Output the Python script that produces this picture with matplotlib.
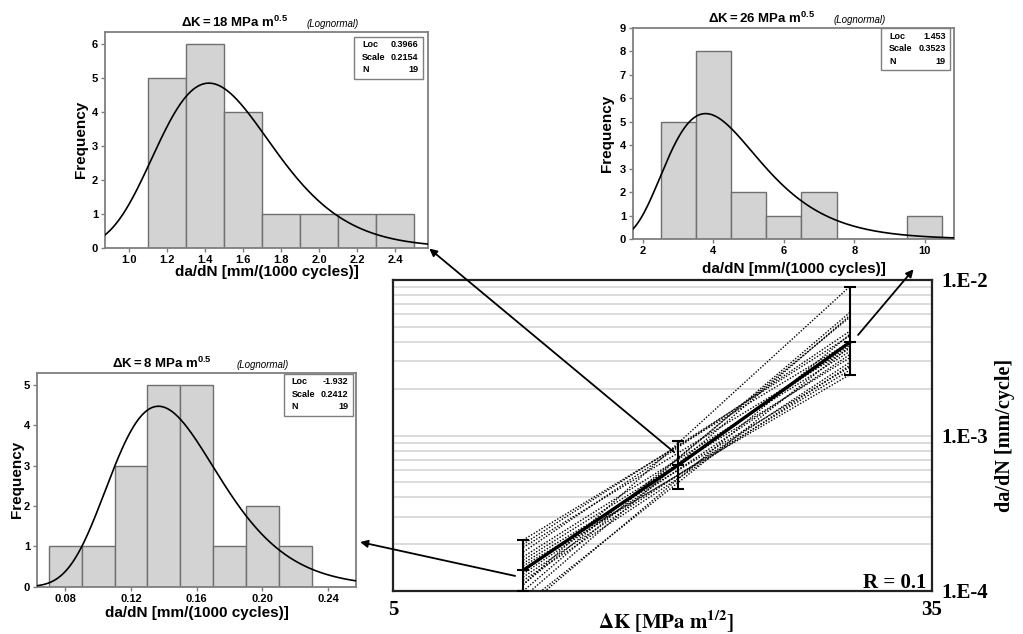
import numpy as np
import matplotlib
matplotlib.use("Agg")
import matplotlib.pyplot as plt
from matplotlib.patches import Rectangle
from matplotlib.ticker import LogLocator, NullLocator, NullFormatter

W, H, DPI = 1023, 634, 100

# ---- crack growth rate bands (mm/cycle) at three dK levels ----
dk_levels = [8, 14, 26]
rate_mean = [1.36e-4, 6.45e-4, 3.97e-3]
rate_low = [1.00e-4, 4.50e-4, 2.46e-3]
rate_high = [2.13e-4, 9.20e-4, 9.06e-3]

# ---- Paris-law fits of the individual specimens, evaluated at dK = 8 and 26 ----
dk_span = [8, 26]
spec_rate_8 = [2.13e-4, 2.00e-4, 1.91e-4, 1.78e-4, 1.66e-4, 1.58e-4, 1.51e-4,
               1.45e-4, 1.38e-4, 1.35e-4, 1.29e-4, 1.23e-4, 1.17e-4, 1.10e-4,
               1.10e-4, 1.00e-4, 0.91e-4, 0.81e-4, 0.76e-4]
spec_rate_26 = [3.98e-3, 4.37e-3, 3.63e-3, 4.68e-3, 3.47e-3, 3.16e-3, 2.75e-3,
                2.46e-3, 2.63e-3, 3.80e-3, 3.31e-3, 2.95e-3, 2.82e-3, 5.75e-3,
                9.06e-3, 6.17e-3, 5.89e-3, 3.72e-3, 4.47e-3]

# ---- histograms of da/dN (mm per 1000 cycles) with lognormal fits ----
h8_edges = [0.07, 0.09, 0.11, 0.13, 0.15, 0.17, 0.19, 0.21, 0.23]
h8_counts = [1, 1, 3, 5, 5, 1, 2, 1]
h8_loc, h8_scale, h8_n = -1.932, 0.2412, 19

h18_edges = [1.1, 1.3, 1.5, 1.7, 1.9, 2.1, 2.3, 2.5]
h18_counts = [5, 6, 4, 1, 1, 1, 1]
h18_loc, h18_scale, h18_n = 0.3966, 0.2154, 19

h26_edges = [2.5, 3.5, 4.5, 5.5, 6.5, 7.5, 8.5, 9.5, 10.5]
h26_counts = [5, 8, 2, 1, 2, 0, 0, 1]
h26_loc, h26_scale, h26_n = 1.453, 0.3523, 19

SANS = "Liberation Sans"
SERIF = "Liberation Serif"
BAR = "#d3d3d3"
BAR_EDGE = "#6f6f6f"
FRAME = "#7f7f7f"

plt.rcParams["mathtext.fontset"] = "custom"
plt.rcParams["mathtext.rm"] = SANS
plt.rcParams["mathtext.bf"] = SANS + ":bold"
plt.rcParams["mathtext.it"] = SANS + ":italic"

fig = plt.figure(figsize=(W / DPI, H / DPI), dpi=DPI)


def px_axes(l, t, r, b):
    return fig.add_axes([l / W, 1 - b / H, (r - l) / W, (b - t) / H])


def hist_panel(box, edges, counts, loc, scale, n, dk, xlim, ylim, xticks, xfmt,
               yticks, box_off, xlabel_drop, ylabel_dx):
    l, t, r, b = box
    aw, ah = r - l, b - t
    ax = px_axes(*box)
    e = np.asarray(edges, dtype=float)
    c = np.asarray(counts, dtype=float)
    ax.bar(e[:-1], c, width=np.diff(e), align="edge", color=BAR,
           edgecolor=BAR_EDGE, linewidth=1.0, zorder=2)
    xs = np.linspace(xlim[0], xlim[1], 400)
    pdf = np.exp(-(np.log(xs) - loc) ** 2 / (2 * scale ** 2)) / (xs * scale * np.sqrt(2 * np.pi))
    ax.plot(xs, pdf * n * (e[1] - e[0]), color="black", lw=1.2, zorder=3)
    ax.set_xlim(*xlim)
    ax.set_ylim(*ylim)
    ax.set_xticks(xticks, [xfmt.format(v) for v in xticks], fontsize=8,
                  fontweight="bold", family=SANS)
    ax.set_yticks(yticks, [str(v) for v in yticks], fontsize=8,
                  fontweight="bold", family=SANS)
    ax.tick_params(length=3, width=1, color=FRAME, pad=2)
    for s in ax.spines.values():
        s.set_color(FRAME)
        s.set_linewidth(1.3)

    # title with fit type
    yb = 1 + 5 / ah
    ax.text(0.235, yb, r"$\mathbf{\Delta K = %d\ MPa\ m^{0.5}}$" % dk,
            transform=ax.transAxes, ha="left", va="baseline", fontsize=9.5)
    ax.text(0.625, yb, "(Lognormal)", transform=ax.transAxes, ha="left",
            va="baseline", fontsize=7, style="italic", family=SANS)

    ax.text(0.5, -xlabel_drop / ah, "da/dN [mm/(1000 cycles)]", transform=ax.transAxes,
            ha="center", va="center", fontsize=11, fontweight="bold", family=SANS)
    ax.text(-ylabel_dx / aw, 0.5, "Frequency", transform=ax.transAxes, rotation=90,
            ha="center", va="center", fontsize=11, fontweight="bold", family=SANS)

    # fit summary box
    bw, bh = 69, 42
    r_off, t_off = box_off
    bx0 = 1 - (r_off + bw) / aw
    by0 = 1 - (t_off + bh) / ah
    ax.add_patch(Rectangle((bx0, by0), bw / aw, bh / ah, transform=ax.transAxes,
                           facecolor="white", edgecolor=FRAME, lw=1.0, zorder=5))
    rows = [("Loc", str(loc)), ("Scale", str(scale)), ("N", str(n))]
    for i, (k, v) in enumerate(rows):
        yy = 1 - (t_off + 8 + 12.5 * i) / ah
        ax.text(bx0 + 8 / aw, yy, k, transform=ax.transAxes, ha="left", va="center",
                fontsize=6.5, fontweight="bold", family=SANS, zorder=6)
        ax.text(1 - (r_off + 4.5) / aw, yy, v, transform=ax.transAxes, ha="right",
                va="center", fontsize=6.5, fontweight="bold", family=SANS, zorder=6)
    return ax


ax18 = hist_panel((105, 32, 428, 247.7), h18_edges, h18_counts, h18_loc, h18_scale, h18_n,
                  18, (0.872, 2.574), (0, 6.35), [1.0, 1.2, 1.4, 1.6, 1.8, 2.0, 2.2, 2.4],
                  "{:.1f}", [0, 1, 2, 3, 4, 5, 6], (5, 4.7), 24, 24)
ax26 = hist_panel((633, 28, 954, 239.3), h26_edges, h26_counts, h26_loc, h26_scale, h26_n,
                  26, (1.717, 10.83), (0, 9.0), [2, 4, 6, 8, 10], "{:g}",
                  [0, 1, 2, 3, 4, 5, 6, 7, 8, 9], (4, 0.3), 30, 26)
ax8 = hist_panel((37, 373, 356, 586.7), h8_edges, h8_counts, h8_loc, h8_scale, h8_n,
                 8, (0.0627, 0.257), (0, 5.29), [0.08, 0.12, 0.16, 0.20, 0.24], "{:.2f}",
                 [0, 1, 2, 3, 4, 5], (3.3, 1), 26, 20)

# ---- main da/dN - dK diagram ----
ax = px_axes(393, 280, 932, 591)
ax.set_xscale("log")
ax.set_yscale("log")
ax.set_xlim(5, 35)
ax.set_ylim(1e-4, 1e-2)
ax.yaxis.set_minor_locator(LogLocator(base=10, subs=np.arange(2, 10)))
ax.yaxis.set_minor_formatter(NullFormatter())
ax.xaxis.set_minor_locator(NullLocator())
ax.xaxis.set_minor_formatter(NullFormatter())
ax.grid(axis="y", which="both", color="#dcdcdc", lw=1.4)
ax.set_axisbelow(True)
ax.set_xticks([5, 35], ["5", "35"], fontsize=15, fontweight="bold", family=SERIF)
ax.yaxis.tick_right()
ax.set_yticks([1e-4, 1e-3, 1e-2], ["1.E-4", "1.E-3", "1.E-2"], fontsize=15,
              fontweight="bold", family=SERIF)
ax.tick_params(axis="x", which="both", length=0, pad=6.5)
ax.tick_params(axis="y", which="both", length=0, pad=7)
for s in ax.spines.values():
    s.set_color("#222222")
    s.set_linewidth(1.6)

for a, b in zip(spec_rate_8, spec_rate_26):
    ax.plot(dk_span, [a, b], color="black", lw=1.0, ls=(0, (1, 1.2)), zorder=3)
ax.plot(dk_levels, rate_mean, color="black", lw=2.4, zorder=4)
ax.errorbar(dk_levels, rate_mean,
            yerr=[np.subtract(rate_mean, rate_low), np.subtract(rate_high, rate_mean)],
            fmt="_", color="black", ms=8, mew=1.5, capsize=4, capthick=1.5,
            elinewidth=1.5, zorder=5)

ax.text(1 - 6 / 539, 3 / 311, "R = 0.1", transform=ax.transAxes, ha="right",
        va="baseline", fontsize=15, fontweight="bold", family=SERIF)
ax.text(0.5065, -37 / 311, r"$\mathbf{\Delta K\ [MPa\ m^{1/2}]}$", transform=ax.transAxes,
        ha="center", va="baseline", fontsize=15, math_fontfamily="stix")
ax.text(1 + 73 / 539, 0.5, "da/dN [mm/cycle]", transform=ax.transAxes, rotation=90,
        ha="center", va="center", fontsize=14.5, fontweight="bold", family=SERIF)

# arrows linking each rate band to its histogram
arrow = dict(arrowstyle="-|>", color="black", lw=1.3, mutation_scale=11,
             shrinkA=0, shrinkB=0)
ax.annotate("", xy=(1.004, -0.004), xycoords=ax18.transAxes,
            xytext=(13.8, 7.8e-4), textcoords="data", arrowprops=arrow,
            annotation_clip=False)
ax.annotate("", xy=(1.013, 0.209), xycoords=ax8.transAxes,
            xytext=(7.77, 1.25e-4), textcoords="data", arrowprops=arrow,
            annotation_clip=False)
ax.annotate("", xy=(0.874, -0.142), xycoords=ax26.transAxes,
            xytext=(26.8, 4.43e-3), textcoords="data", arrowprops=arrow,
            annotation_clip=False)

fig.savefig("out.png", dpi=DPI)
